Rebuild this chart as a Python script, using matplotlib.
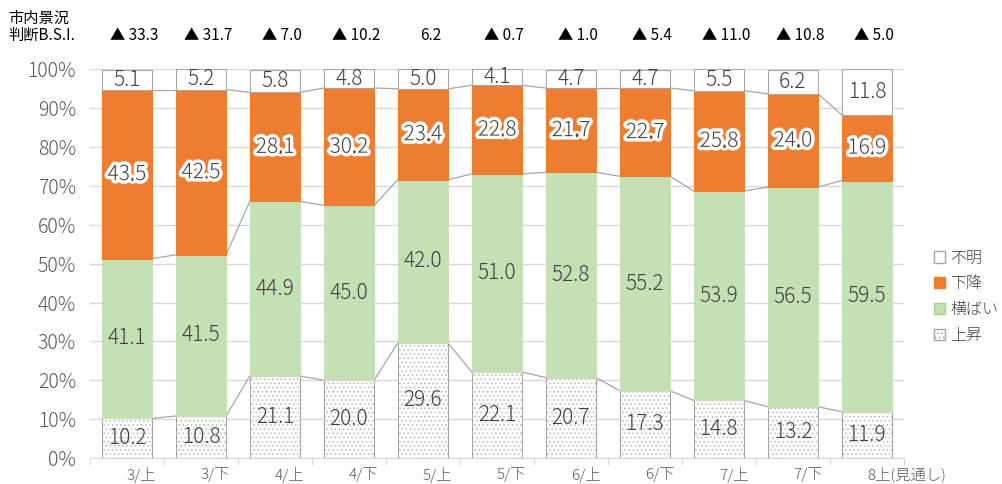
import numpy as np
import matplotlib
matplotlib.use('agg')
import matplotlib.pyplot as plt
import matplotlib.patheffects as pe
from matplotlib.patches import Patch
from matplotlib.ticker import FuncFormatter

plt.rcParams['font.family'] = ['Noto Sans CJK JP', 'DejaVu Sans']
plt.rcParams['hatch.linewidth'] = 0.7

#*********************************** DATA **************************************
periods = ['3/上', '3/下', '4/上', '4/下', '5/上', '5/下', '6/上', '6/下', '7/上', '7/下', '8上(見通し)']
up = [10.2, 10.8, 21.1, 20.0, 29.6, 22.1, 20.7, 17.3, 14.8, 13.2, 11.9]
flat = [41.1, 41.5, 44.9, 45.0, 42.0, 51.0, 52.8, 55.2, 53.9, 56.5, 59.5]
down = [43.5, 42.5, 28.1, 30.2, 23.4, 22.8, 21.7, 22.7, 25.8, 24.0, 16.9]
unknown = [5.1, 5.2, 5.8, 4.8, 5.0, 4.1, 4.7, 4.7, 5.5, 6.2, 11.8]
bsi = ['▲ 33.3', '▲ 31.7', '▲ 7.0', '▲ 10.2', '6.2', '▲ 0.7', '▲ 1.0', '▲ 5.4', '▲ 11.0', '▲ 10.8', '▲ 5.0']

ORANGE = '#ED7D31'
GREEN = '#C5E0B4'
EDGE = '#A6A6A6'
DOTS = '#BDBDBD'
TEXT = '#404040'
WIDTH = 0.68

#*********************************** PLOT **************************************
fig = plt.figure(figsize=(10.03, 4.84), dpi=100)
ax = fig.add_axes([0.0897, 0.0537, 0.8115, 0.803])
x = np.arange(len(periods))

series = [
    (up, 'white', '....', EDGE, '上昇'),
    (flat, GREEN, None, GREEN, '横ばい'),
    (down, ORANGE, None, ORANGE, '下降'),
    (unknown, 'white', None, EDGE, '不明'),
]

bottom = np.zeros(len(periods))
tops = []
for vals, color, hatch, edge, name in series:
    vals = np.array(vals)
    if hatch:
        # light dotted fill first, then the grey outline on top
        ax.bar(x, vals, WIDTH, bottom=bottom, color=color, hatch=hatch,
               edgecolor=DOTS, linewidth=0, zorder=3)
        ax.bar(x, vals, WIDTH, bottom=bottom, fill=False,
               edgecolor=edge, linewidth=0.8, zorder=3)
    else:
        ax.bar(x, vals, WIDTH, bottom=bottom, color=color,
               edgecolor=edge, linewidth=0.8, zorder=3)
    for xi, b, v in zip(x, bottom, vals):
        effects = None
        if color == ORANGE:
            effects = [pe.withStroke(linewidth=5, foreground='white')]
        ax.text(xi, b + v / 2, f'{v:.1f}', ha='center', va='center', fontweight='light',
                fontsize=15, color=TEXT, zorder=5, path_effects=effects)
    bottom = bottom + vals
    tops.append(bottom.copy())

# series lines joining the segment tops between neighbouring bars
for level in tops[:3]:
    for i in range(len(x) - 1):
        ax.plot([x[i] + WIDTH / 2, x[i + 1] - WIDTH / 2], [level[i], level[i + 1]],
                color=EDGE, linewidth=0.9, zorder=2)

ax.set_xlim(-0.5, len(periods) - 0.5)
ax.set_ylim(0, 100)
ax.set_yticks(np.arange(0, 101, 10))
ax.yaxis.set_major_formatter(FuncFormatter(lambda v, p: f'{v:.0f}%'))
ax.tick_params(axis='y', length=0, labelsize=14, labelcolor='#595959', pad=10)
for t in ax.get_yticklabels():
    t.set_fontweight('light')
ax.grid(axis='y', color='#D9D9D9', linewidth=1, zorder=0)

ax.set_xticks(np.arange(-0.5, len(periods), 1))
ax.set_xticklabels([])
ax.tick_params(axis='x', length=5, color='#D9D9D9')
for xi, lab in zip(x, periods):
    ax.text(xi, -4.3, lab, ha='left', va='center', fontsize=11, color='#595959',
            fontweight='light')

for s in ['top', 'right', 'left']:
    ax.spines[s].set_visible(False)
ax.spines['bottom'].set_color('#D9D9D9')

# B.S.I. row above the bars
for xi, lab in zip(x, bsi):
    ax.text(xi + 0.1, 108.8, lab, ha='center', va='center', fontsize=11, color='black',
            clip_on=False)
fig.text(0.008, 0.963, '市内景況', fontsize=11, va='center', color='black')
fig.text(0.008, 0.927, '判断B.S.I.', fontsize=11, va='center', color='black')

handles = [
    Patch(facecolor='white', edgecolor=EDGE, label='不明'),
    Patch(facecolor=ORANGE, edgecolor=ORANGE, label='下降'),
    Patch(facecolor=GREEN, edgecolor='#A9D18E', label='横ばい'),
    Patch(facecolor='white', edgecolor=EDGE, hatch='....', label='上昇'),
]
leg = fig.legend(handles=handles, loc='center left', bbox_to_anchor=(0.917, 0.387),
                 frameon=False, fontsize=11.5, handlelength=0.7, handleheight=0.7,
                 handletextpad=0.3, labelspacing=0.55, labelcolor='#404040')
for t in leg.get_texts():
    t.set_fontweight('light')

fig.savefig('out.png', dpi=100)
